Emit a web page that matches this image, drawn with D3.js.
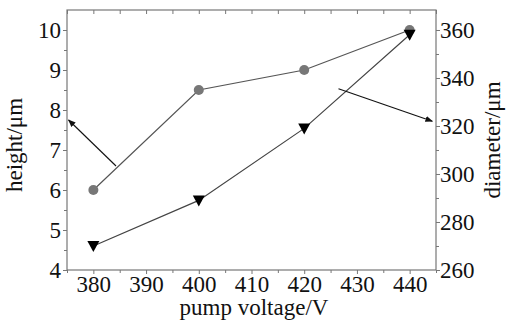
<!DOCTYPE html>
<html>
<head>
<meta charset="utf-8">
<script src="https://cdn.jsdelivr.net/npm/d3@7"></script>
<style>
  html, body { margin: 0; padding: 0; background: #fff; overflow: hidden; }
  svg { display: block; }
  svg text { font-family: "Liberation Serif", "DejaVu Serif", serif; fill: #111; }
</style>
</head>
<body>
<div id="graph"></div>
<script>
// values
const voltage = [380, 400, 420, 440];
const height = [6, 8.5, 9, 10];
const diameter = [270, 289, 319, 358];
const xTicks = [380, 390, 400, 410, 420, 430, 440];
const hTicks = [4, 5, 6, 7, 8, 9, 10];
const dTicks = [260, 280, 300, 320, 340, 360];
const xMinor = [375, 385, 395, 405, 415, 425, 435, 445];
const hMinor = [4.5, 5.5, 6.5, 7.5, 8.5, 9.5];
const dMinor = [270, 290, 310, 330, 350];

const width = 509, svgHeight = 322;
const margin = {top: 10, right: 73, bottom: 52, left: 67};
const innerWidth = width - margin.left - margin.right;
const innerHeight = svgHeight - margin.top - margin.bottom;
const fontSize = "23px";

const svg = d3.select("#graph").append("svg")
    .attr("width", width)
    .attr("height", svgHeight);

const graph = svg.append("g")
    .attr("transform", `translate(${margin.left}, ${margin.top})`);

const xScale = d3.scaleLinear().domain([375, 445]).range([0, innerWidth]);
const yLeft = d3.scaleLinear().domain([4, 10.5]).range([innerHeight, 0]);
const yRight = d3.scaleLinear().domain([260, 368.33]).range([innerHeight, 0]);

const axisColor = "#777";
const styleAxis = g => {
    g.selectAll(".domain").remove();
    g.selectAll("line").attr("stroke", axisColor);
    g.selectAll("text").style("font-size", fontSize);
};
const minorAxis = g => {
    g.selectAll(".domain").remove();
    g.selectAll("text").remove();
    g.selectAll("line").attr("stroke", axisColor);
};

// frame
graph.append("rect")
    .attr("width", innerWidth).attr("height", innerHeight)
    .attr("fill", "none").attr("stroke", axisColor).attr("stroke-width", 1.2);

// bottom axis
graph.append("g")
    .attr("transform", `translate(0, ${innerHeight})`)
    .call(d3.axisBottom(xScale).tickValues(xTicks).tickSize(4).tickPadding(2).tickFormat(d3.format("d")))
    .call(styleAxis);
graph.append("g")
    .attr("transform", `translate(0, ${innerHeight})`)
    .call(d3.axisBottom(xScale).tickValues(xMinor).tickSize(3))
    .call(minorAxis);

// top ticks inward
graph.append("g")
    .call(d3.axisTop(xScale).tickValues(xTicks.concat(xMinor)).tickSize(-4))
    .call(minorAxis);

// left axis
graph.append("g")
    .call(d3.axisLeft(yLeft).tickValues(hTicks).tickSize(4).tickPadding(2).tickFormat(d3.format("d")))
    .call(styleAxis);
graph.append("g")
    .call(d3.axisLeft(yLeft).tickValues(hMinor).tickSize(3))
    .call(minorAxis);

// right axis
graph.append("g")
    .attr("transform", `translate(${innerWidth}, 0)`)
    .call(d3.axisRight(yRight).tickValues(dTicks).tickSize(4).tickPadding(0).tickFormat(d3.format("d")))
    .call(styleAxis);
graph.append("g")
    .attr("transform", `translate(${innerWidth}, 0)`)
    .call(d3.axisRight(yRight).tickValues(dMinor).tickSize(3))
    .call(minorAxis);

// lines
const hLine = d3.line().x((d, i) => xScale(voltage[i])).y(d => yLeft(d));
const dLine = d3.line().x((d, i) => xScale(voltage[i])).y(d => yRight(d));

graph.append("path").datum(height)
    .attr("fill", "none").attr("stroke", "#555").attr("stroke-width", 1.2).attr("d", hLine);
graph.append("path").datum(diameter)
    .attr("fill", "none").attr("stroke", "#444").attr("stroke-width", 1.2).attr("d", dLine);

graph.selectAll(".hpt").data(height).join("circle")
    .attr("cx", (d, i) => xScale(voltage[i])).attr("cy", d => yLeft(d))
    .attr("r", 5).attr("fill", "#777");

graph.selectAll(".dpt").data(diameter).join("path")
    .attr("transform", (d, i) => `translate(${xScale(voltage[i])}, ${yRight(d)})`)
    .attr("d", "M-6,-5L6,-5L0,6Z").attr("fill", "#000");

// annotation arrows
svg.append("defs").append("marker")
    .attr("id", "arr").attr("viewBox", "0 0 10 10").attr("refX", 9).attr("refY", 5)
    .attr("markerWidth", 7).attr("markerHeight", 7).attr("orient", "auto")
    .append("path").attr("d", "M0,1L10,5L0,9Z").attr("fill", "#111");

graph.append("line")
    .attr("x1", xScale(384.3)).attr("y1", yLeft(6.6))
    .attr("x2", xScale(375.3)).attr("y2", yLeft(7.75))
    .attr("stroke", "#111").attr("stroke-width", 1.1).attr("marker-end", "url(#arr)");
graph.append("line")
    .attr("x1", xScale(426.5)).attr("y1", yRight(335.5))
    .attr("x2", xScale(444.3)).attr("y2", yRight(322))
    .attr("stroke", "#111").attr("stroke-width", 1.1).attr("marker-end", "url(#arr)");

// axis titles
svg.append("text")
    .attr("x", 254).attr("y", 315)
    .attr("text-anchor", "middle").style("font-size", fontSize)
    .text("pump voltage/V");
svg.append("text")
    .attr("transform", `translate(22, ${margin.top + 135}) rotate(-90)`)
    .attr("text-anchor", "middle").style("font-size", fontSize)
    .text("height/μm");
svg.append("text")
    .attr("transform", `translate(500, ${margin.top + 130}) rotate(-90)`)
    .attr("text-anchor", "middle").style("font-size", fontSize)
    .text("diameter/μm");
</script>
</body>
</html>
